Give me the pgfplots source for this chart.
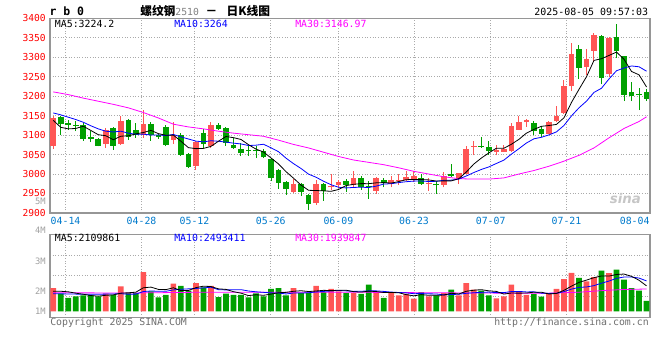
\documentclass[border=0pt]{standalone}
\usepackage{fontspec}
\usepackage{pgfplots}
\usepackage{pgfplotstable}
\pgfplotsset{compat=1.18}
\setmainfont{DejaVu Sans Mono}
\newfontfamily\cjk{Noto Sans CJK SC}
\newfontfamily\sansf{DejaVu Sans}
\definecolor{upc}{RGB}{255,85,85}
\definecolor{dnc}{RGB}{0,160,0}
\definecolor{datec}{RGB}{0,122,204}
\definecolor{gridc}{RGB}{170,170,170}
\definecolor{framec}{RGB}{150,150,150}
\definecolor{ma10c}{RGB}{0,0,255}
\definecolor{ma30c}{RGB}{255,0,255}
\definecolor{txtgray}{RGB}{110,110,110}
\definecolor{lblgray}{RGB}{160,160,160}

% up (red) candles: i open high low close volume(M above base)
\pgfplotstableread{
i O H L C V
0 3073 3150 3064 3145 1.73
7 3078 3118 3067 3112 1.31
9 3078 3148 3075 3137 1.86
12 3101 3165 3093 3129 2.92
16 3088 3134 3078 3101 2.05
19 3021 3084 3011 3082 2.10
21 3071 3134 3067 3127 1.90
32 2954 2986 2952 2975 1.73
35 2925 2985 2921 2974 1.90
37 2966 3000 2960 2969 1.66
38 2973 2985 2965 2979 1.49
40 2971 3007 2964 2990 1.36
43 2957 2992 2949 2990 1.36
45 2975 2995 2966 2984 1.36
46 2983 3001 2973 2985 1.19
47 2985 3009 2981 2992 1.29
48 2985 3007 2979 2994 0.94
50 2976 2990 2957 2978 1.12
52 2973 3005 2966 2994 1.36
54 2988 3003 2975 3003 1.19
55 3001 3073 2999 3064 2.10
56 3071 3086 3048 3073 1.61
59 3057 3075 3048 3063 0.97
60 3057 3075 3056 3064 1.12
61 3058 3131 3057 3124 1.98
62 3114 3148 3113 3134 1.49
63 3133 3142 3122 3140 1.23
66 3104 3136 3103 3134 1.36
67 3135 3176 3134 3148 1.66
68 3157 3242 3154 3225 2.40
69 3225 3337 3214 3308 2.85
71 3275 3320 3254 3296 2.23
72 3317 3361 3290 3358 2.55
74 3257 3352 3248 3350 2.83
}\up

% down (green) candles
\pgfplotstableread{
i O H L C V
1 3146 3148 3100 3128 1.31
2 3131 3140 3114 3125 0.99
3 3127 3135 3110 3125 1.12
4 3125 3131 3086 3091 1.19
5 3095 3110 3082 3091 1.23
6 3090 3092 3071 3073 1.12
8 3118 3122 3063 3073 1.23
10 3140 3141 3088 3095 1.36
11 3112 3131 3093 3099 1.36
13 3129 3134 3086 3101 1.49
14 3101 3104 3090 3095 1.04
15 3121 3127 3071 3074 1.23
17 3101 3105 3047 3050 1.90
18 3051 3053 3015 3019 1.53
20 3105 3115 3066 3077 1.78
22 3127 3131 3114 3116 1.06
23 3118 3120 3073 3080 1.31
24 3075 3092 3064 3067 1.23
25 3064 3080 3046 3054 1.23
26 3062 3071 3046 3060 1.04
27 3061 3073 3041 3059 1.34
28 3058 3064 3041 3043 1.12
29 3038 3040 2982 2990 1.66
30 3011 3012 2962 2977 1.73
31 2979 2983 2947 2961 1.19
33 2975 2976 2943 2955 1.36
34 2947 2948 2908 2923 1.36
36 2975 2977 2931 2957 1.43
39 2983 2987 2955 2973 1.36
41 2991 2994 2960 2966 1.29
42 2970 2981 2937 2968 1.98
44 2985 2991 2966 2976 0.99
49 2991 2999 2972 2975 1.43
51 2975 2983 2949 2971 1.19
53 3000 3026 2993 2994 1.61
57 3073 3095 3067 3071 1.53
58 3069 3084 3050 3060 1.19
64 3131 3137 3100 3111 1.29
65 3116 3124 3094 3104 1.09
70 3321 3332 3245 3272 2.48
73 3354 3356 3230 3247 3.02
75 3351 3386 3298 3315 3.09
76 3302 3303 3187 3204 2.35
77 3211 3236 3187 3201 1.73
78 3206 3221 3164 3204 1.53
79 3211 3218 3187 3194 0.77
}\dn

% price moving averages
\pgfplotstableread{
i m5 m10
0 3138 3157
1 3120 3152
2 3116 3146
3 3117 3140
4 3122.8 3133
5 3112 3124
6 3101 3116
7 3098.4 3110
8 3088 3108
9 3097.2 3110
10 3098 3105
11 3103.2 3102.1
12 3106.6 3102.5
13 3112.2 3100.1
14 3103.8 3100.5
15 3099.6 3098.8
16 3100 3101.6
17 3084.2 3095.4
18 3067.8 3090
19 3065.2 3084.5
20 3065.8 3082.7
21 3071 3085.5
22 3084.2 3084.2
23 3096.4 3082.1
24 3093.4 3079.3
25 3088.8 3077.3
26 3075.4 3073.2
27 3064 3074.1
28 3056.6 3076.5
29 3041.2 3067.3
30 3025.8 3057.3
31 3006 3040.7
32 2989.2 3026.6
33 2971.6 3014.1
34 2958.2 2999.7
35 2957.6 2991.7
36 2956.8 2981.4
37 2955.6 2972.4
38 2960.4 2966
39 2970.4 2964.3
40 2973.6 2965.6
41 2975.4 2966.1
42 2975.2 2965.4
43 2977.4 2968.9
44 2978 2974.2
45 2976.8 2975.2
46 2980.6 2978
47 2985.4 2980.3
48 2986.2 2981.8
49 2986 2982
50 2984.8 2980.8
51 2982 2981.3
52 2982.4 2983.9
53 2982.4 2984.3
54 2988 2987
55 3005.2 2995
56 3025.6 3003.8
57 3041 3011.7
58 3054.2 3018.3
59 3066.2 3027.1
60 3066.2 3035.7
61 3076.4 3051
62 3089 3065
63 3105 3079.6
64 3114.6 3090.4
65 3122.6 3094.4
66 3124.6 3100.5
67 3127.4 3108.2
68 3144.4 3124.7
69 3183.8 3149.2
70 3217.4 3170
71 3249.8 3187.2
72 3291.8 3209.6
73 3296.2 3220.3
74 3304.6 3244.2
75 3313.2 3265.3
76 3294.8 3272.3
77 3263.4 3277.6
78 3254.8 3275.5
79 3223.6 3264.1
}\ma

\pgfplotstableread{
i m30
0 3211
2 3204
4 3195
6 3187
8 3179
10 3170
12 3158
14 3144
16 3128
18 3121
20 3116
22 3110
24 3105
26 3101
28 3097
30 3087
32 3076
34 3067
36 3056
38 3045
40 3036
42 3030
44 3024
46 3016
48 3007
50 3000
52 2993
54 2988
56 2987
58 2987
60 2990
62 3000
64 3009
66 3020
68 3033
70 3048
72 3067
74 3093
76 3117
78 3135
79 3147
}\mathirty

% volume moving averages
\pgfplotstableread{
i v5 v10
0 1.49 1.30
1 1.49 1.30
2 1.45 1.29
3 1.35 1.28
4 1.27 1.27
5 1.17 1.27
6 1.13 1.27
7 1.19 1.28
8 1.22 1.29
9 1.35 1.31
10 1.38 1.27
11 1.42 1.28
12 1.75 1.47
13 1.80 1.51
14 1.63 1.49
15 1.61 1.49
16 1.75 1.59
17 1.54 1.64
18 1.55 1.67
19 1.76 1.70
20 1.87 1.74
21 1.84 1.79
22 1.67 1.61
23 1.63 1.59
24 1.46 1.61
25 1.35 1.61
26 1.17 1.51
27 1.23 1.45
28 1.19 1.41
29 1.28 1.37
30 1.38 1.36
31 1.41 1.29
32 1.49 1.36
33 1.53 1.36
34 1.47 1.38
35 1.51 1.44
36 1.56 1.48
37 1.54 1.51
38 1.57 1.55
39 1.57 1.52
40 1.46 1.48
41 1.43 1.49
42 1.50 1.52
43 1.47 1.52
44 1.40 1.48
45 1.40 1.43
46 1.38 1.40
47 1.24 1.37
48 1.15 1.31
49 1.24 1.32
50 1.19 1.30
51 1.19 1.29
52 1.21 1.22
53 1.34 1.25
54 1.29 1.27
55 1.49 1.34
56 1.57 1.38
57 1.61 1.41
58 1.52 1.43
59 1.48 1.39
60 1.28 1.39
61 1.36 1.47
62 1.35 1.48
63 1.36 1.44
64 1.42 1.45
65 1.42 1.35
66 1.29 1.33
67 1.33 1.34
68 1.56 1.46
69 1.87 1.65
70 2.15 1.78
71 2.32 1.81
72 2.50 1.91
73 2.63 2.09
74 2.62 2.25
75 2.74 2.45
76 2.77 2.55
77 2.60 2.55
78 2.31 2.47
79 1.89 2.26
}\vma

\pgfplotstableread{
i v30
0 1.38
10 1.36
20 1.42
30 1.42
40 1.42
50 1.38
60 1.35
66 1.35
68 1.38
70 1.42
72 1.50
74 1.57
76 1.62
79 1.66
}\vmathirty

\pgfplotsset{
  kbase/.style={
    scale only axis, anchor=north west, width=450pt,
    xmin=-0.43, xmax=79.46,
    axis line style={draw=framec, line width=0.9pt},
    major tick length=0pt,
    grid=major,
    major grid style={draw=gridc, line width=0.75pt, dash pattern=on 0.75pt off 1.25pt},
    xtick={1.64,11.76,18.81,28.97,37.97,48.04,58.25,68.34},
    /pgf/number format/assume math mode=true,
    /pgf/number format/1000 sep={},
  },
  wick/.style={draw=none, mark=none, forget plot,
    error bars/.cd, y dir=plus, y explicit, error mark=none,
    error bar style={draw=#1, line width=0.75pt, solid}},
  body/.style={draw=none, mark=none, forget plot,
    error bars/.cd, y dir=plus, y explicit, error mark=none,
    error bar style={draw=#1, line width=4.25pt, line cap=butt, solid}},
}

\begin{document}
\begin{tikzpicture}
\path[use as bounding box] (0pt,0pt) rectangle (495pt,-270pt);

% ---------- price panel ----------
\begin{axis}[kbase,
  at={(37.5pt,-13.725pt)}, height=146pt,
  ymin=2900, ymax=3400,
  ytick={2900,2950,...,3400},
  yticklabel style={text=red, font=\fontsize{7.2}{7.2}\selectfont, inner sep=0pt, xshift=-3pt},
  xticklabels={04-14,04-28,05-12,05-26,06-09,06-23,07-07,07-21},
  xticklabel style={text=datec, font=\fontsize{7.4}{7.4}\selectfont, inner sep=0pt, yshift=-2.6pt},
  extra x ticks={77.42}, extra x tick labels={08-04},
  extra x tick style={grid=none},
]
\addplot[wick=upc] table[x=i, y=L, y error expr=\thisrow{H}-\thisrow{L}] {\up};
\addplot[wick=dnc] table[x=i, y=L, y error expr=\thisrow{H}-\thisrow{L}] {\dn};
\addplot[body=upc] table[x=i, y=O, y error expr=\thisrow{C}-\thisrow{O}] {\up};
\addplot[body=dnc] table[x=i, y=C, y error expr=\thisrow{O}-\thisrow{C}] {\dn};
\addplot[ma30c, line width=0.6pt, mark=none] table[x=i, y=m30] {\mathirty};
\addplot[ma10c, line width=0.6pt, mark=none] table[x=i, y=m10] {\ma};
\addplot[black, line width=0.6pt, mark=none] table[x=i, y=m5] {\ma};
\end{axis}

% ---------- volume panel ----------
\begin{axis}[kbase,
  at={(37.5pt,-175.725pt)}, height=62.4pt,
  ymin=-0.46, ymax=5.725,
  ytick={1.12,2.65,4.16}, yticklabels={},
  xticklabels={},
]
\addplot[ybar, bar width=4.25pt, bar shift=0pt, fill=upc, draw=none] table[x=i, y=V] {\up};
\addplot[ybar, bar width=4.25pt, bar shift=0pt, fill=dnc, draw=none] table[x=i, y=V] {\dn};
\addplot[ma30c, line width=0.6pt, mark=none] table[x=i, y=v30] {\vmathirty};
\addplot[ma10c, line width=0.6pt, mark=none] table[x=i, y=v10] {\vma};
\addplot[black, line width=0.6pt, mark=none] table[x=i, y=v5] {\vma};
\end{axis}

% ---------- texts ----------
\node[anchor=west, inner sep=0pt, font=\bfseries\fontsize{8.6}{8.6}\selectfont] at (37pt,-8.6pt) {r b 0};
\node[anchor=west, inner sep=0pt] at (105pt,-8.4pt)
  {{\cjk\bfseries\fontsize{8.8}{8.8}\selectfont 螺纹钢}{\color{gray}\fontsize{7.3}{7.3}\selectfont 2510}\hspace{5pt}{\cjk\bfseries\fontsize{8.8}{8.8}\selectfont －\hspace{7pt}日K线图}};
\node[anchor=east, inner sep=0pt, font=\fontsize{7.45}{7.45}\selectfont] at (486.2pt,-9pt) {2025-08-05 09:57:03};

\node[anchor=west, inner sep=0pt, font=\fontsize{7.4}{7.4}\selectfont] at (41pt,-18pt) {MA5:3224.2};
\node[anchor=west, inner sep=0pt, font=\fontsize{7.4}{7.4}\selectfont, text=ma10c] at (130.5pt,-18pt) {MA10:3264};
\node[anchor=west, inner sep=0pt, font=\fontsize{7.4}{7.4}\selectfont, text=ma30c] at (221.25pt,-18pt) {MA30:3146.97};

\node[anchor=west, inner sep=0pt, font=\fontsize{7.4}{7.4}\selectfont] at (41pt,-178.5pt) {MA5:2109861};
\node[anchor=west, inner sep=0pt, font=\fontsize{7.4}{7.4}\selectfont, text=ma10c] at (130.5pt,-178.5pt) {MA10:2493411};
\node[anchor=west, inner sep=0pt, font=\fontsize{7.4}{7.4}\selectfont, text=ma30c] at (221.25pt,-178.5pt) {MA30:1939847};

\foreach \lab/\yy in {5M/-151pt,4M/-173pt,3M/-195.75pt,2M/-218.25pt,1M/-233.25pt}
  \node[anchor=east, inner sep=0pt, font=\fontsize{6.6}{6.6}\selectfont, text=lblgray] at (34.5pt,\yy) {\lab};

\node[anchor=west, inner sep=0pt, font=\fontsize{7.4}{7.4}\selectfont, text=txtgray] at (37.5pt,-242.25pt) {Copyright 2025 SINA.COM};
\node[anchor=east, inner sep=0pt, font=\fontsize{7.4}{7.4}\selectfont, text=txtgray] at (486.75pt,-242.25pt) {http://finance.sina.com.cn};

\node[anchor=center, inner sep=0pt, font=\sansf\bfseries\itshape\fontsize{10}{10}\selectfont, text=gray!45] at (469pt,-149pt) {sina};
\end{tikzpicture}
\end{document}
